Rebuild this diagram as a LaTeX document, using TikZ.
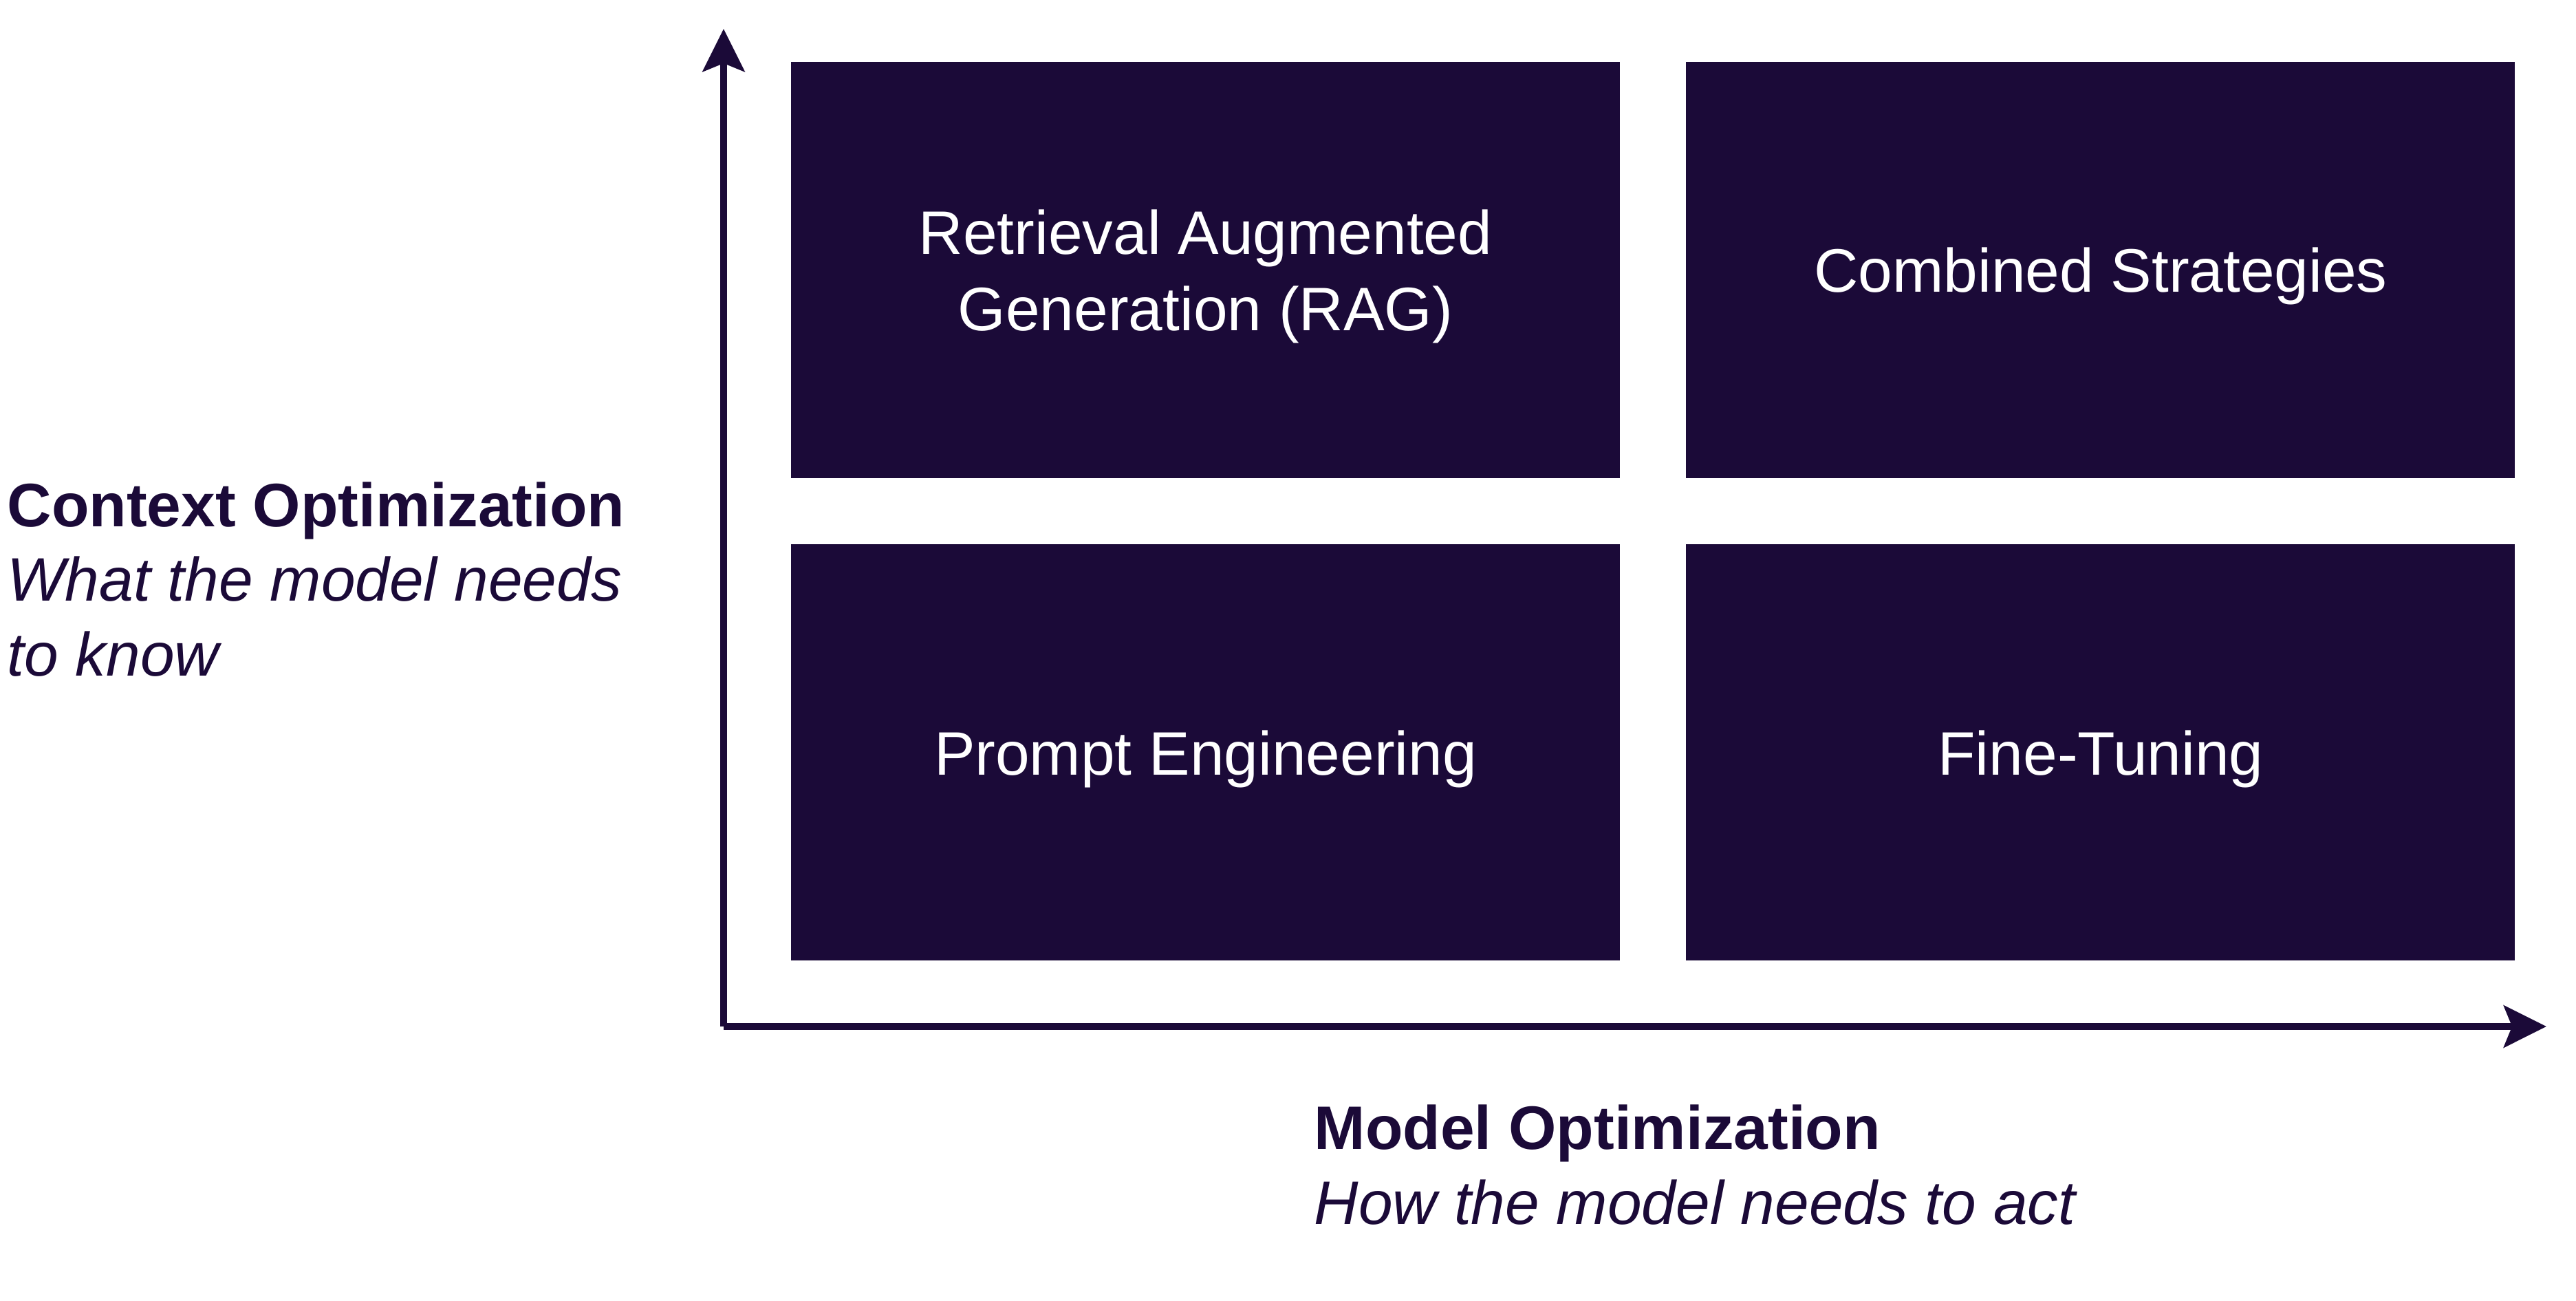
\documentclass[tikz,border=0pt]{standalone}
\usepackage{fontspec}
\setmainfont{Liberation Sans}
\usetikzlibrary{arrows.meta, positioning}
\definecolor{deeppurple}{RGB}{27,10,56}
\newcommand{\quadfont}{\fontsize{25.4pt}{31.6pt}\selectfont}
\newcommand{\axisfont}{\fontsize{25.4pt}{30.8pt}\selectfont}
\tikzstyle{quad} = [rectangle, fill=deeppurple, text=white, minimum width=12.05cm, minimum height=6.05cm, inner sep=0pt, align=center, font=\quadfont, text height=0.645cm, text depth=0pt]
\tikzstyle{axisline} = [line width=0.1cm, draw=deeppurple, -{Stealth[length=0.62cm, width=0.61cm, inset=0.12cm]}]
\tikzstyle{axislabel} = [text=deeppurple, font=\axisfont, align=left, inner sep=0pt]

\begin{document}
\begin{tikzpicture}
        \useasboundingbox (0,0) rectangle (37.45,18.90);

        % Quadrants
        \node[quad, text height=1.755cm] (rag_box) at (17.525, 14.975) {Retrieval Augmented\\Generation (RAG)};
        \node[quad, right=0.95cm of rag_box] (combined_box) {Combined Strategies};
        \node[quad, below=0.95cm of rag_box] (prompt_box) {Prompt Engineering};
        \node[quad, right=0.95cm of prompt_box] (finetune_box) {Fine-Tuning};

        % Axes
        \coordinate (origin) at (10.52, 3.98);
        \coordinate (y_tip) at (10.52, 18.48);
        \coordinate (x_tip) at (37.02, 3.98);
        \draw[axisline] (origin) -- (y_tip);
        \draw[axisline] (origin) -- (x_tip);

        % Axis labels (base = last line)
        \node[axislabel, anchor=base west] (context_label) at (0.10, 9.08) {\textbf{Context Optimization}\\\textit{What the model needs}\\\textit{to know}};
        \node[axislabel, anchor=base west] (model_label) at (19.10, 1.11) {\textbf{Model Optimization}\\\textit{How the model needs to act}};
    \end{tikzpicture}
\end{document}
